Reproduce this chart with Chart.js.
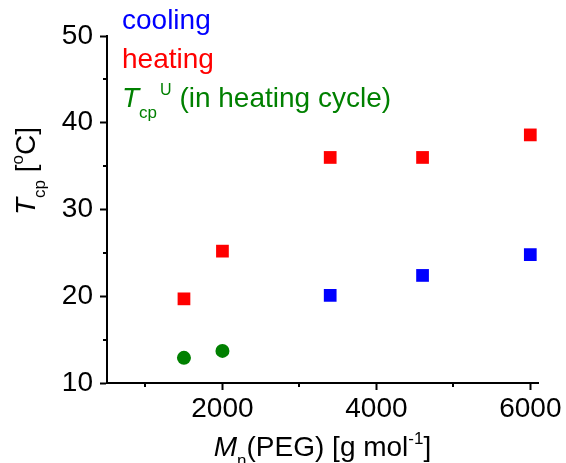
<!DOCTYPE html>
<html lang="en">
<head>
  <meta charset="UTF-8">
  <title>Tcp vs Mn(PEG)</title>
  <style>
    body { margin: 0; background: #fff; }
    #wrap { width: 566px; height: 463px; }
  </style>
</head>
<body>
  <div id="wrap"><canvas id="grafico" width="566" height="463"></canvas></div>

  <script src="https://cdn.jsdelivr.net/npm/chart.js"></script>
  <script>
    // Data
    const coolingMn = [3400, 4600, 6000];
    const coolingTcp = [20.1, 22.4, 24.8];
    const heatingMn = [1500, 2000, 3400, 4600, 6000];
    const heatingTcp = [19.7, 25.2, 36.0, 36.0, 38.6];
    const upperMn = [1500, 2000];
    const upperTcp = [12.9, 13.7];

    // Axis ticks
    const xTicks = [2000, 4000, 6000];
    const xMinorTicks = [1000, 3000, 5000];
    const yTicks = [10, 20, 30, 40, 50];
    const yMinorTicks = [15, 25, 35, 45];

    const FONT = '"Liberation Sans", Arial, sans-serif';
    const BLUE = '#0000ff', RED = '#ff0000', GREEN = '#008000';

    const pts = (xs, ys) => xs.map((x, i) => ({ x, y: ys[i] }));

    // draws a line of text made of parts (normal / sub / sup / italic)
    function drawRich(ctx, x, y, parts, color) {
      ctx.fillStyle = color;
      ctx.textBaseline = 'alphabetic';
      ctx.textAlign = 'left';
      let cx = x;
      for (const p of parts) {
        ctx.font = (p.italic ? 'italic ' : '') + p.size + 'px ' + FONT;
        ctx.fillText(p.t, cx, y + (p.dy || 0));
        cx += ctx.measureText(p.t).width + (p.gap || 0);
      }
      return cx - x;
    }
    function richWidth(ctx, parts) {
      let w = 0;
      for (const p of parts) {
        ctx.font = (p.italic ? 'italic ' : '') + p.size + 'px ' + FONT;
        w += ctx.measureText(p.t).width + (p.gap || 0);
      }
      return w;
    }

    const textPlugin = {
      id: 'texts',
      afterDraw(chart) {
        const ctx = chart.ctx;
        const area = chart.chartArea;
        const xs = chart.scales.x, ys = chart.scales.y;
        ctx.save();

        // minor ticks
        ctx.strokeStyle = '#000';
        ctx.lineWidth = 2;
        ctx.beginPath();
        xMinorTicks.forEach(v => {
          const px = Math.round(xs.getPixelForValue(v));
          ctx.moveTo(px, area.bottom);
          ctx.lineTo(px, area.bottom + 4);
        });
        yMinorTicks.forEach(v => {
          const py = Math.round(ys.getPixelForValue(v));
          ctx.moveTo(area.left, py);
          ctx.lineTo(area.left - 4, py);
        });
        ctx.stroke();

        // legend text
        const lx = area.left + 15;
        drawRich(ctx, lx, 29, [{ t: 'cooling', size: 28 }], BLUE);
        drawRich(ctx, lx, 68, [{ t: 'heating', size: 28 }], RED);
        drawRich(ctx, lx, 107, [
          { t: 'T', size: 28, italic: true },
          { t: 'cp', size: 17, dy: 11, gap: 3 },
          { t: 'U', size: 16, dy: -12 },
          { t: ' (in heating cycle)', size: 28 }
        ], GREEN);

        // x title
        const xParts = [
          { t: 'M', size: 28, italic: true },
          { t: 'n', size: 17, dy: 10 },
          { t: '(PEG) [g mol', size: 28 },
          { t: '-1', size: 17, dy: -12 },
          { t: ']', size: 28 }
        ];
        const xw = richWidth(ctx, xParts);
        drawRich(ctx, (area.left + area.right) / 2 - xw / 2, 456, xParts, '#000');

        // y title
        const yParts = [
          { t: 'T', size: 28, italic: true },
          { t: 'cp', size: 17, dy: 10 },
          { t: ' [', size: 28 },
          { t: 'o', size: 17, dy: -12 },
          { t: 'C]', size: 28 }
        ];
        const yw = richWidth(ctx, yParts);
        ctx.translate(35, 171);
        ctx.rotate(-Math.PI / 2);
        drawRich(ctx, -yw / 2, 0, yParts, '#000');

        ctx.restore();
      }
    };

    const axisCommon = {
      border: { display: true, color: '#000', width: 2 },
      grid: { drawOnChartArea: false, drawTicks: true, tickLength: 7, tickColor: '#000', tickWidth: 2 },
    };

    new Chart(document.getElementById('grafico').getContext('2d'), {
      type: 'scatter',
      data: {
        datasets: [
          { label: 'cooling', data: pts(coolingMn, coolingTcp), pointStyle: 'rect', pointRadius: 9,
            backgroundColor: BLUE, borderColor: BLUE, borderWidth: 0 },
          { label: 'heating', data: pts(heatingMn, heatingTcp), pointStyle: 'rect', pointRadius: 9,
            backgroundColor: RED, borderColor: RED, borderWidth: 0 },
          { label: 'Tcp U (in heating cycle)', data: pts(upperMn, upperTcp), pointStyle: 'circle', pointRadius: 7,
            backgroundColor: GREEN, borderColor: GREEN, borderWidth: 0 }
        ]
      },
      options: {
        responsive: false,
        animation: false,
        layout: { padding: { left: 0, right: 28, top: 36, bottom: 0 } },
        plugins: { legend: { display: false }, tooltip: { enabled: false } },
        scales: {
          x: {
            ...axisCommon,
            type: 'linear',
            min: 500,
            max: 6100,
            afterBuildTicks: s => { s.ticks = xTicks.map(v => ({ value: v })); },
            afterFit: s => { s.height = 80; },
            ticks: { color: '#000', padding: 2, maxRotation: 0, font: { family: FONT, size: 28 }, callback: v => String(v) }
          },
          y: {
            ...axisCommon,
            type: 'linear',
            min: 10,
            max: 50,
            afterBuildTicks: s => { s.ticks = yTicks.map(v => ({ value: v })); },
            afterFit: s => { s.width = 107; },
            ticks: { color: '#000', padding: 7, font: { family: FONT, size: 28 }, callback: v => String(v) }
          }
        }
      },
      plugins: [textPlugin]
    });
  </script>
</body>
</html>
